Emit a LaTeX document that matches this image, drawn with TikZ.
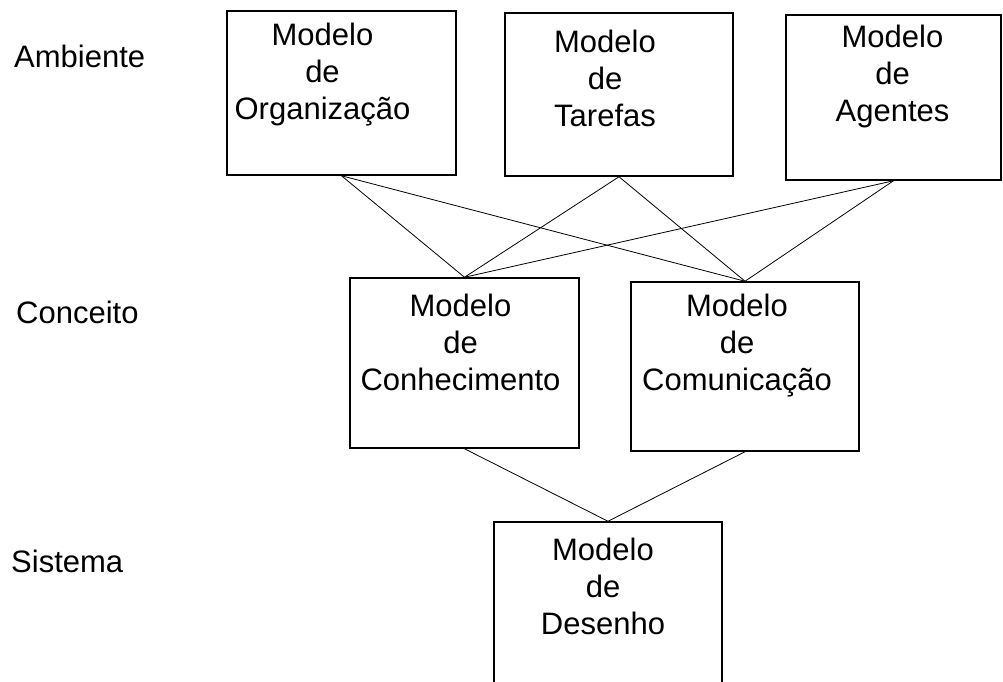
\documentclass[tikz,border=0pt]{standalone}
\usepackage{fontspec}
\setmainfont{Liberation Sans}
\begin{document}
\begin{tikzpicture}[x=1pt, y=-1pt,
  modelbox/.style={draw, line width=1.5pt, inner sep=0pt},
  boxtext/.style={anchor=north, align=center, inner sep=0pt, font=\fontsize{31}{37}\selectfont},
  leveltext/.style={anchor=base west, inner sep=0pt, font=\fontsize{31}{36}\selectfont},
  link/.style={line width=0.8pt}]
\clip (0,0) rectangle (1003,681);
% niveis
\node[leveltext] (amb) at (14,67){Ambiente};
\node[leveltext] (conc) at (16,323){Conceito};
\node[leveltext] (sis) at (11,572){Sistema};
% modelos
\node[modelbox, minimum width=229, minimum height=164] (org) at (341.5,93){};
\node[boxtext, xshift=-19pt, yshift=-13pt] (orgt) at (org.north){Modelo\\de\\Organização};
\node[modelbox, minimum width=228, minimum height=163] (tar) at (619,94.5){};
\node[boxtext, xshift=-14pt, yshift=-18pt] (tart) at (tar.north){Modelo\\de\\Tarefas};
\node[modelbox, minimum width=215, minimum height=165] (agt) at (893.5,97.5){};
\node[boxtext, xshift=-1pt, yshift=-11pt] (agtt) at (agt.north){Modelo\\de\\Agentes};
\node[modelbox, minimum width=229, minimum height=170] (con) at (464.5,363){};
\node[boxtext, xshift=-4pt, yshift=-17pt] (cont) at (con.north){Modelo\\de\\Conhecimento};
\node[modelbox, minimum width=228, minimum height=169] (com) at (745,366.5){};
\node[boxtext, xshift=-8pt, yshift=-13pt] (comt) at (com.north){Modelo\\de\\Comunicação};
\node[modelbox, minimum width=228, minimum height=200] (des) at (608,622){};
\node[boxtext, xshift=-5pt, yshift=-17pt] (dest) at (des.north){Modelo\\de\\Desenho};
% ligacoes
\draw[link](org.south) -- (con.north);
\draw[link](org.south) -- (com.north);
\draw[link](tar.south) -- (con.north);
\draw[link](tar.south) -- (com.north);
\draw[link](agt.south) -- (con.north);
\draw[link](agt.south) -- (com.north);
\draw[link](con.south) -- (des.north);
\draw[link](com.south) -- (des.north);
\end{tikzpicture}
\end{document}
